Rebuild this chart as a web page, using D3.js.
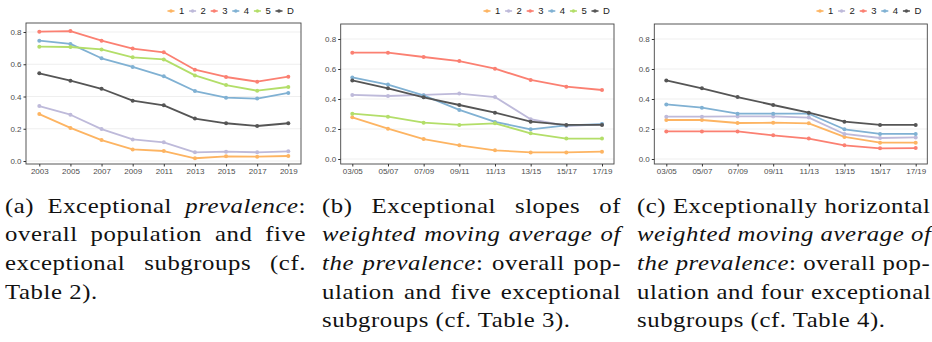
<!DOCTYPE html>
<html>
<head>
<meta charset="utf-8">
<script src="https://cdn.jsdelivr.net/npm/d3@7"></script>
<style>
  body { margin: 0; background: #fff; }
  #wrap { position: relative; width: 932px; height: 342px; overflow: hidden; }
  svg { position: absolute; left: 0; top: 0; }
  .cap { position: absolute; font-family: "Liberation Serif", serif; font-size: 21.5px; letter-spacing: 0.5px;
         color: #111; transform-origin: 0 0; transform: scaleX(1.15); }
  .cap div { height: 28.7px; line-height: 28.7px; white-space: nowrap; text-align: justify; text-align-last: justify; }
  .cap div.last { text-align: left; text-align-last: left; }
</style>
</head>
<body>
<div id="wrap"></div>
<script>
// x categories
const years = ["2003", "2005", "2007", "2009", "2011", "2013", "2015", "2017", "2019"];
const windows = ["03/05", "05/07", "07/09", "09/11", "11/13", "13/15", "15/17", "17/19"];
const yTicks = [0, 0.2, 0.4, 0.6, 0.8];

// (a) prevalence
const a1 = [0.291, 0.205, 0.130, 0.072, 0.062, 0.017, 0.029, 0.027, 0.031];
const a2 = [0.341, 0.287, 0.198, 0.134, 0.116, 0.054, 0.058, 0.054, 0.060];
const a3 = [0.802, 0.806, 0.746, 0.697, 0.674, 0.566, 0.521, 0.492, 0.523];
const a4 = [0.746, 0.726, 0.637, 0.583, 0.525, 0.434, 0.393, 0.387, 0.422];
const a5 = [0.709, 0.707, 0.692, 0.643, 0.630, 0.531, 0.471, 0.436, 0.459];
const aD = [0.544, 0.498, 0.448, 0.374, 0.345, 0.263, 0.234, 0.217, 0.234];

// (b) slopes of weighted moving average
const b1 = [0.278, 0.202, 0.133, 0.091, 0.058, 0.044, 0.044, 0.049];
const b2 = [0.427, 0.420, 0.427, 0.436, 0.413, 0.265, 0.220, 0.231];
const b3 = [0.709, 0.709, 0.680, 0.653, 0.602, 0.527, 0.482, 0.460];
const b4 = [0.544, 0.496, 0.424, 0.327, 0.247, 0.198, 0.224, 0.233];
const b5 = [0.302, 0.282, 0.242, 0.227, 0.238, 0.171, 0.136, 0.136];
const bD = [0.524, 0.471, 0.411, 0.360, 0.309, 0.249, 0.227, 0.227];

// (c) horizontal weighted moving average
const c1 = [0.260, 0.260, 0.240, 0.242, 0.238, 0.147, 0.109, 0.109];
const c2 = [0.282, 0.282, 0.284, 0.284, 0.276, 0.167, 0.140, 0.144];
const c3 = [0.184, 0.184, 0.184, 0.158, 0.136, 0.091, 0.071, 0.073];
const c4 = [0.364, 0.342, 0.302, 0.302, 0.302, 0.198, 0.167, 0.167];
const cD = [0.524, 0.471, 0.413, 0.360, 0.309, 0.249, 0.227, 0.227];

const color = d3.scaleOrdinal()
  .domain(["1", "2", "3", "4", "5", "D"])
  .range(["#FDB462", "#BEBADA", "#FB8072", "#80B1D3", "#B3DE69", "#555555"]);

const panels = [
  { cats: years, series: [["1", a1], ["2", a2], ["3", a3], ["4", a4], ["5", a5], ["D", aD]],
    box: [26, 301, 23, 164], xr: [39.3, 288.3], yr: [161, 32], legendX: 171 },
  { cats: windows, series: [["1", b1], ["2", b2], ["3", b3], ["4", b4], ["5", b5], ["D", bD]],
    box: [340.7, 614, 24, 164], xr: [352.3, 602], yr: [159, 39], legendX: 487 },
  { cats: windows, series: [["1", c1], ["2", c2], ["3", c3], ["4", c4], ["D", cD]],
    box: [654.3, 927.3, 24, 164], xr: [666.3, 915.7], yr: [159, 39], legendX: 820 }
];

const svg = d3.select("#wrap").append("svg").attr("width", 932).attr("height", 342);

panels.forEach((p) => {
  const [x0, x1, y0, y1] = p.box;
  const x = d3.scalePoint().domain(p.cats).range(p.xr);
  const y = d3.scaleLinear().domain([0, 0.8]).range(p.yr);
  const g = svg.append("g");

  g.selectAll(".grid")
    .data(yTicks)
    .enter()
    .append("line")
    .attr("x1", x0).attr("x2", x1)
    .attr("y1", (d) => y(d)).attr("y2", (d) => y(d))
    .attr("stroke", "#EBEBEB").attr("stroke-width", 0.8);

  const line = d3.line().x((d, i) => x(p.cats[i])).y((d) => y(d));

  p.series.forEach(([key, vals]) => {
    g.append("path")
      .attr("d", line(vals))
      .attr("fill", "none")
      .attr("stroke", color(key))
      .attr("stroke-width", 1.8)
      .attr("stroke-linejoin", "round");
    g.selectAll(null)
      .data(vals)
      .enter()
      .append("circle")
      .attr("cx", (d, i) => x(p.cats[i]))
      .attr("cy", (d) => y(d))
      .attr("r", 2)
      .attr("fill", color(key));
  });

  g.append("rect")
    .attr("x", x0).attr("y", y0)
    .attr("width", x1 - x0).attr("height", y1 - y0)
    .attr("fill", "none").attr("stroke", "#444").attr("stroke-width", 0.9);

  const yAxis = g.append("g")
    .attr("transform", `translate(${x0},0)`)
    .call(d3.axisLeft(y).tickValues(yTicks).tickFormat(d3.format(".1f")).tickSize(2.5).tickPadding(2));
  const xAxis = g.append("g")
    .attr("transform", `translate(0,${y1})`)
    .call(d3.axisBottom(x).tickSize(2.5).tickPadding(2));
  [yAxis, xAxis].forEach((ax) => {
    ax.select(".domain").remove();
    ax.selectAll("line").attr("stroke", "#333");
    ax.selectAll("text")
      .attr("fill", "#4D4D4D")
      .style("font-family", "'Liberation Sans', Arial, sans-serif")
      .style("font-size", "8px");
  });

  // legend on top
  const leg = g.selectAll(".leg")
    .data(p.series.map((s) => s[0]))
    .enter()
    .append("g")
    .attr("transform", (d, i) => `translate(${p.legendX + i * 21.6},11)`);
  leg.append("line")
    .attr("x1", -3.5).attr("x2", 3.5)
    .attr("stroke", (d) => color(d)).attr("stroke-width", 1.6);
  leg.append("circle").attr("r", 1.8).attr("fill", (d) => color(d));
  leg.append("text")
    .attr("x", 8).attr("dy", "0.36em")
    .style("font-family", "'Liberation Sans', Arial, sans-serif")
    .style("font-size", "9.5px")
    .attr("fill", "#222")
    .text((d) => d);
});

// captions
const capA = ["(a) Exceptional <i>prevalence</i>:", "overall population and five",
  "exceptional subgroups (cf.", "Table 2)."];
const capB = ["(b) Exceptional slopes of", "<i>weighted moving average of</i>",
  "<i>the prevalence</i>: overall pop-", "ulation and five exceptional", "subgroups (cf. Table 3)."];
const capC = ["(c) Exceptionally horizontal", "<i>weighted moving average of</i>",
  "<i>the prevalence</i>: overall pop-", "ulation and four exceptional", "subgroups (cf. Table 4)."];

const stretch = 1.15;
[[capA, 5, 301], [capB, 322, 299], [capC, 637, 293]].forEach(([lines, left, w]) => {
  const box = d3.select("#wrap").append("div")
    .attr("class", "cap")
    .style("left", left + "px")
    .style("top", "191.5px")
    .style("width", (w / stretch) + "px");
  box.selectAll("div")
    .data(lines)
    .enter()
    .append("div")
    .classed("last", (d, i) => i === lines.length - 1)
    .html((d) => d);
});
</script>
</body>
</html>
